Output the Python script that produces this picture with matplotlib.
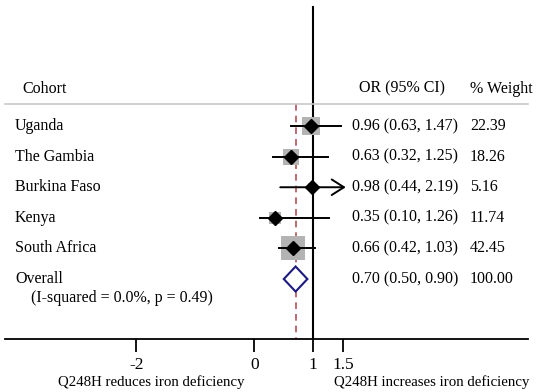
import matplotlib.pyplot as plt
from matplotlib.patches import Polygon

plt.rcParams['font.family'] = ['Liberation Serif', 'DejaVu Serif']
plt.rcParams['axes.unicode_minus'] = False

# Datos del forest plot
cohortes = ['Uganda', 'The Gambia', 'Burkina Faso', 'Kenya', 'South Africa']
odds = [0.96, 0.63, 0.98, 0.35, 0.66]
ci_bajo = [0.63, 0.32, 0.44, 0.10, 0.42]
ci_alto = [1.47, 1.25, 2.19, 1.26, 1.03]
peso = [22.39, 18.26, 5.16, 11.74, 42.45]
global_or, global_bajo, global_alto = 0.70, 0.50, 0.90
heterogeneidad = '(I-squared = 0.0%, p = 0.49)'
ticks = [-2, 0, 1, 1.5]
limite_x = 1.5  # los IC se cortan aquí con una flecha

fig = plt.figure(figsize=(5.46, 3.92), dpi=100)
ax = fig.add_axes([5 / 546, 53 / 392, 523 / 546, 339 / 392])
xmin, xmax = -4.225, 4.639
ax.set_xlim(xmin, xmax)
ax.set_ylim(6.96, -4.12)

for s in ['top', 'left', 'right']:
    ax.spines[s].set_visible(False)
ax.spines['bottom'].set_linewidth(1.3)
ax.set_yticks([])
ax.set_xticks(ticks)
ax.set_xticklabels(['-2', '0', '1', '1.5'], fontsize=12.5)
ax.tick_params(axis='x', length=9, width=1.3, pad=4)

fs = 11.5
# líneas de referencia
ax.plot([1, 1], [-3.9, 6.96], color='black', lw=1.5, zorder=1)
ax.plot([global_or, global_or], [-0.72, 6.96], color='#b5505a', lw=1.2,
        ls=(0, (4, 3)), zorder=1)
ax.plot([xmin, xmax], [-0.72, -0.72], color='#c8c8c8', lw=1.2, clip_on=False)

# encabezados
ax.text(-3.927, -1.22, 'Cohort', fontsize=fs, va='center')
ax.text(1.775, -1.22, 'OR (95% CI)', fontsize=fs, va='center')
ax.text(3.656, -1.22, '% Weight', fontsize=fs, va='center', clip_on=False)

for i, c in enumerate(cohortes):
    alto = min(ci_alto[i], limite_x)
    if ci_alto[i] > limite_x:
        ax.annotate('', xy=(alto + 0.05, i), xytext=(ci_bajo[i], i),
                    arrowprops=dict(arrowstyle='->,head_length=0.55,head_width=0.35',
                                    lw=1.4, color='black', mutation_scale=16,
                                    shrinkA=0, shrinkB=0))
    else:
        ax.plot([ci_bajo[i], alto], [i, i], color='black', lw=1.4, zorder=3)
    ax.plot(odds[i], i, 's', color='#b3b3b3', markersize=2.65 * peso[i] ** 0.5,
            markeredgewidth=0, zorder=2)
    ax.plot(odds[i], i, 'D', color='black', markersize=7, zorder=4)
    ax.text(-4.056, i, c, fontsize=fs, va='center')
    ax.text(1.656, i, f'{odds[i]:.2f} ({ci_bajo[i]:.2f}, {ci_alto[i]:.2f})',
            fontsize=fs, va='center')
    ax.text(3.656, i, f'{peso[i]:.2f}', fontsize=fs, va='center', clip_on=False)

# efecto global
n = len(cohortes)
h = 0.41
diamante = Polygon([(global_bajo, n), (global_or, n - h), (global_alto, n),
                    (global_or, n + h)], closed=True, facecolor='white',
                   edgecolor='#1a1a80', lw=1.5, zorder=4)
ax.add_patch(diamante)
ax.text(-4.056, n, 'Overall', fontsize=fs, va='center')
ax.text(-3.785, n + 0.62, heterogeneidad, fontsize=fs, va='center')
ax.text(1.656, n, f'{global_or:.2f} ({global_bajo:.2f}, {global_alto:.2f})',
        fontsize=fs, va='center')
ax.text(3.656, n, '100.00', fontsize=fs, va='center', clip_on=False)

# etiquetas inferiores
ax.text(-1.751, 8.37, 'Q248H reduces iron deficiency', fontsize=10.7,
        ha='center', va='center', clip_on=False)
ax.text(3.012, 8.37, 'Q248H increases iron deficiency', fontsize=10.7,
        ha='center', va='center', clip_on=False)

fig.savefig('out.png', dpi=100)
